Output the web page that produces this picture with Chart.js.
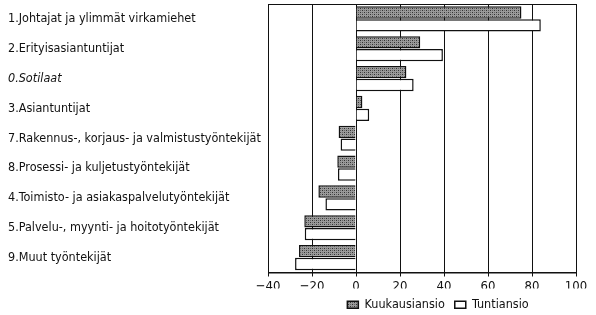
<!DOCTYPE html>
<html>
<head>
<meta charset="utf-8">
<script src="https://cdn.jsdelivr.net/npm/chart.js@4"></script>
<style>
  html, body { margin: 0; padding: 0; background: #fff; }
  #wrap { position: relative; width: 596px; height: 315px; }
</style>
</head>
<body>
<div id="wrap"><canvas id="myChart" width="596" height="315"></canvas></div>
<script>
// chart data
var categories = [
  '1.Johtajat ja ylimmät virkamiehet',
  '2.Erityisasiantuntijat',
  '0.Sotilaat',
  '3.Asiantuntijat',
  '7.Rakennus-, korjaus- ja valmistustyöntekijät',
  '8.Prosessi- ja kuljetustyöntekijät',
  '4.Toimisto- ja asiakaspalvelutyöntekijät',
  '5.Palvelu-, myynti- ja hoitotyöntekijät',
  '9.Muut työntekijät'
]
var kuukausiansio = [75.2, 29.2, 22.9, 2.9, -7.9, -8.5, -17.1, -23.5, -25.9]
var tuntiansio = [84, 39.5, 26.2, 6, -7.0, -8.2, -13.9, -23.3, -27.7]
var xTicks = [-40, -20, 0, 20, 40, 60, 80, 100]

var fontName = "'DejaVu Sans Condensed', 'Open Sans', sans-serif"

// speckled grey fill for the monthly series
function makePattern() {
  let c = document.createElement('canvas')
  c.width = 4; c.height = 4
  let g = c.getContext('2d')
  g.fillStyle = '#9a9a9a'
  g.fillRect(0, 0, 4, 4)
  g.fillStyle = '#333'
  g.fillRect(0, 0, 1, 1)
  g.fillRect(2, 2, 1, 1)
  g.fillStyle = '#666'
  g.fillRect(2, 0, 1, 1)
  g.fillRect(0, 2, 1, 1)
  return g.createPattern(c, 'repeat')
}
let hatch = makePattern()

// border around plot area, legend nudged to the right
const boxBorder = {
  id: 'boxBorder',
  afterLayout(chart) {
    if (chart.legend) {
      chart.legend.left += 16
      chart.legend.right += 16
    }
  },
  afterDraw(chart) {
    let a = chart.chartArea, ctx = chart.ctx
    ctx.save()
    ctx.strokeStyle = '#111'
    ctx.lineWidth = 1
    ctx.strokeRect(a.left + 0.5, a.top + 0.5, a.right - a.left, a.bottom - a.top)
    ctx.restore()
  }
}

let ctx = document.getElementById('myChart').getContext('2d')
let myChart = new Chart(ctx, {
  type: 'bar',
  data: {
    labels: categories,
    datasets: [{
      label: 'Kuukausiansio',
      data: kuukausiansio,
      backgroundColor: hatch,
      borderColor: '#111',
      borderWidth: 1.5,
      categoryPercentage: 0.86,
      barPercentage: 0.96
    }, {
      label: 'Tuntiansio',
      data: tuntiansio,
      backgroundColor: '#fff',
      borderColor: '#111',
      borderWidth: 1.5,
      categoryPercentage: 0.86,
      barPercentage: 0.96
    }]
  },
  options: {
    indexAxis: 'y',
    responsive: false,
    animation: false,
    layout: { padding: { left: 8, right: 20, top: 4, bottom: -6 } },
    scales: {
      x: {
        min: -40,
        max: 100,
        afterBuildTicks: function (scale) {
          scale.ticks = xTicks.map(v => ({ value: v }))
        },
        afterFit: function (scale) { scale.height = 16 },
        grid: { color: '#111', lineWidth: 1, tickLength: 4, drawOnChartArea: true },
        border: { color: '#111' },
        ticks: {
          color: '#111',
          padding: 2,
          maxRotation: 0,
          font: { family: fontName, size: 13 },
          callback: v => (v < 0 ? '\u2212' + Math.abs(v) : '' + v)
        }
      },
      y: {
        afterFit: function (scale) {
          scale.width = 260
          scale.paddingTop = 0
          scale.paddingBottom = 0
        },
        grid: { display: false },
        border: { color: '#111' },
        ticks: {
          color: '#111',
          crossAlign: 'far',
          autoSkip: false,
          font: function (c) {
            return { family: fontName, size: 12.5, style: c.index === 2 ? 'italic' : 'normal' }
          }
        }
      }
    },
    plugins: {
      legend: {
        position: 'bottom',
        fullSize: false,
        labels: {
          color: '#111',
          boxWidth: 11,
          boxHeight: 7,
          padding: 10,
          font: { family: fontName, size: 12.5 }
        }
      },
      tooltip: { enabled: false }
    }
  },
  plugins: [boxBorder]
})
</script>
</body>
</html>
